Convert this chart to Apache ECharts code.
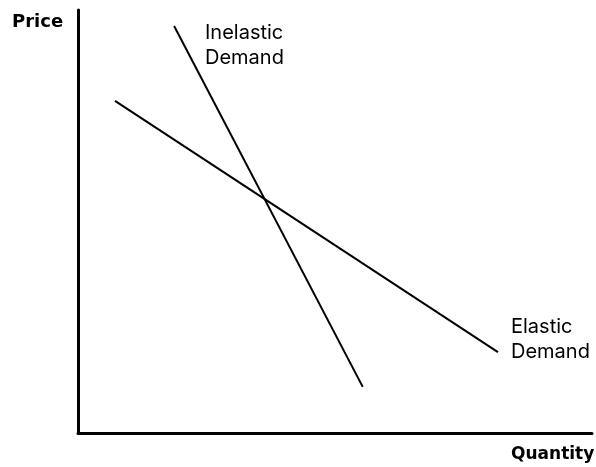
<!DOCTYPE html>
<html>
<head>
<meta charset="utf-8">
<script src="https://cdn.jsdelivr.net/npm/echarts@6/dist/echarts.min.js"></script>
<style>html,body{margin:0;padding:0;background:#fff}#c{width:596px;height:467px}</style>
</head>
<body>
<div id="c"></div>
<script>
const inelasticDemand = [[1.87, 9.62], [5.54, 1.09]];
const elasticDemand = [[0.72, 7.85], [8.17, 1.91]];
const seriesNames = ['Inelastic Demand', 'Elastic Demand'];
const axisNames = ['Price', 'Quantity'];

const chart = echarts.init(document.getElementById('c'));
const font = 'Inter, "Liberation Sans", Arial, sans-serif';
const boldFont = '"DejaVu Sans", "Liberation Sans", sans-serif';
chart.setOption({
  animation: false,
  grid: { left: 78, right: 4, top: 10, bottom: 34 },
  xAxis: {
    type: 'value', min: 0, max: 10,
    axisLine: { show: true, onZero: false, lineStyle: { color: '#000', width: 3 } },
    axisTick: { show: false }, axisLabel: { show: false }, splitLine: { show: false }
  },
  yAxis: {
    type: 'value', min: 0, max: 10,
    axisLine: { show: true, onZero: false, lineStyle: { color: '#000', width: 3 } },
    axisTick: { show: false }, axisLabel: { show: false }, splitLine: { show: false }
  },
  series: [
    { name: seriesNames[0], type: 'line', data: inelasticDemand, symbol: 'none',
      lineStyle: { color: '#000', width: 2 } },
    { name: seriesNames[1], type: 'line', data: elasticDemand, symbol: 'none',
      lineStyle: { color: '#000', width: 2 } }
  ],
  graphic: [
    { type: 'text', left: 12, top: 13, style: { text: axisNames[0], font: 'bold 18px ' + boldFont, fill: '#000' } },
    { type: 'text', left: 511, top: 446, style: { text: axisNames[1], font: 'bold 17px ' + boldFont, fill: '#000' } },
    { type: 'text', left: 205, top: 20, style: { text: seriesNames[0].replace(' ', '\n'), font: '20px ' + font, lineHeight: 25, fill: '#000' } },
    { type: 'text', left: 511, top: 314, style: { text: seriesNames[1].replace(' ', '\n'), font: '20px ' + font, lineHeight: 25, fill: '#000' } }
  ]
});
</script>
</body>
</html>
